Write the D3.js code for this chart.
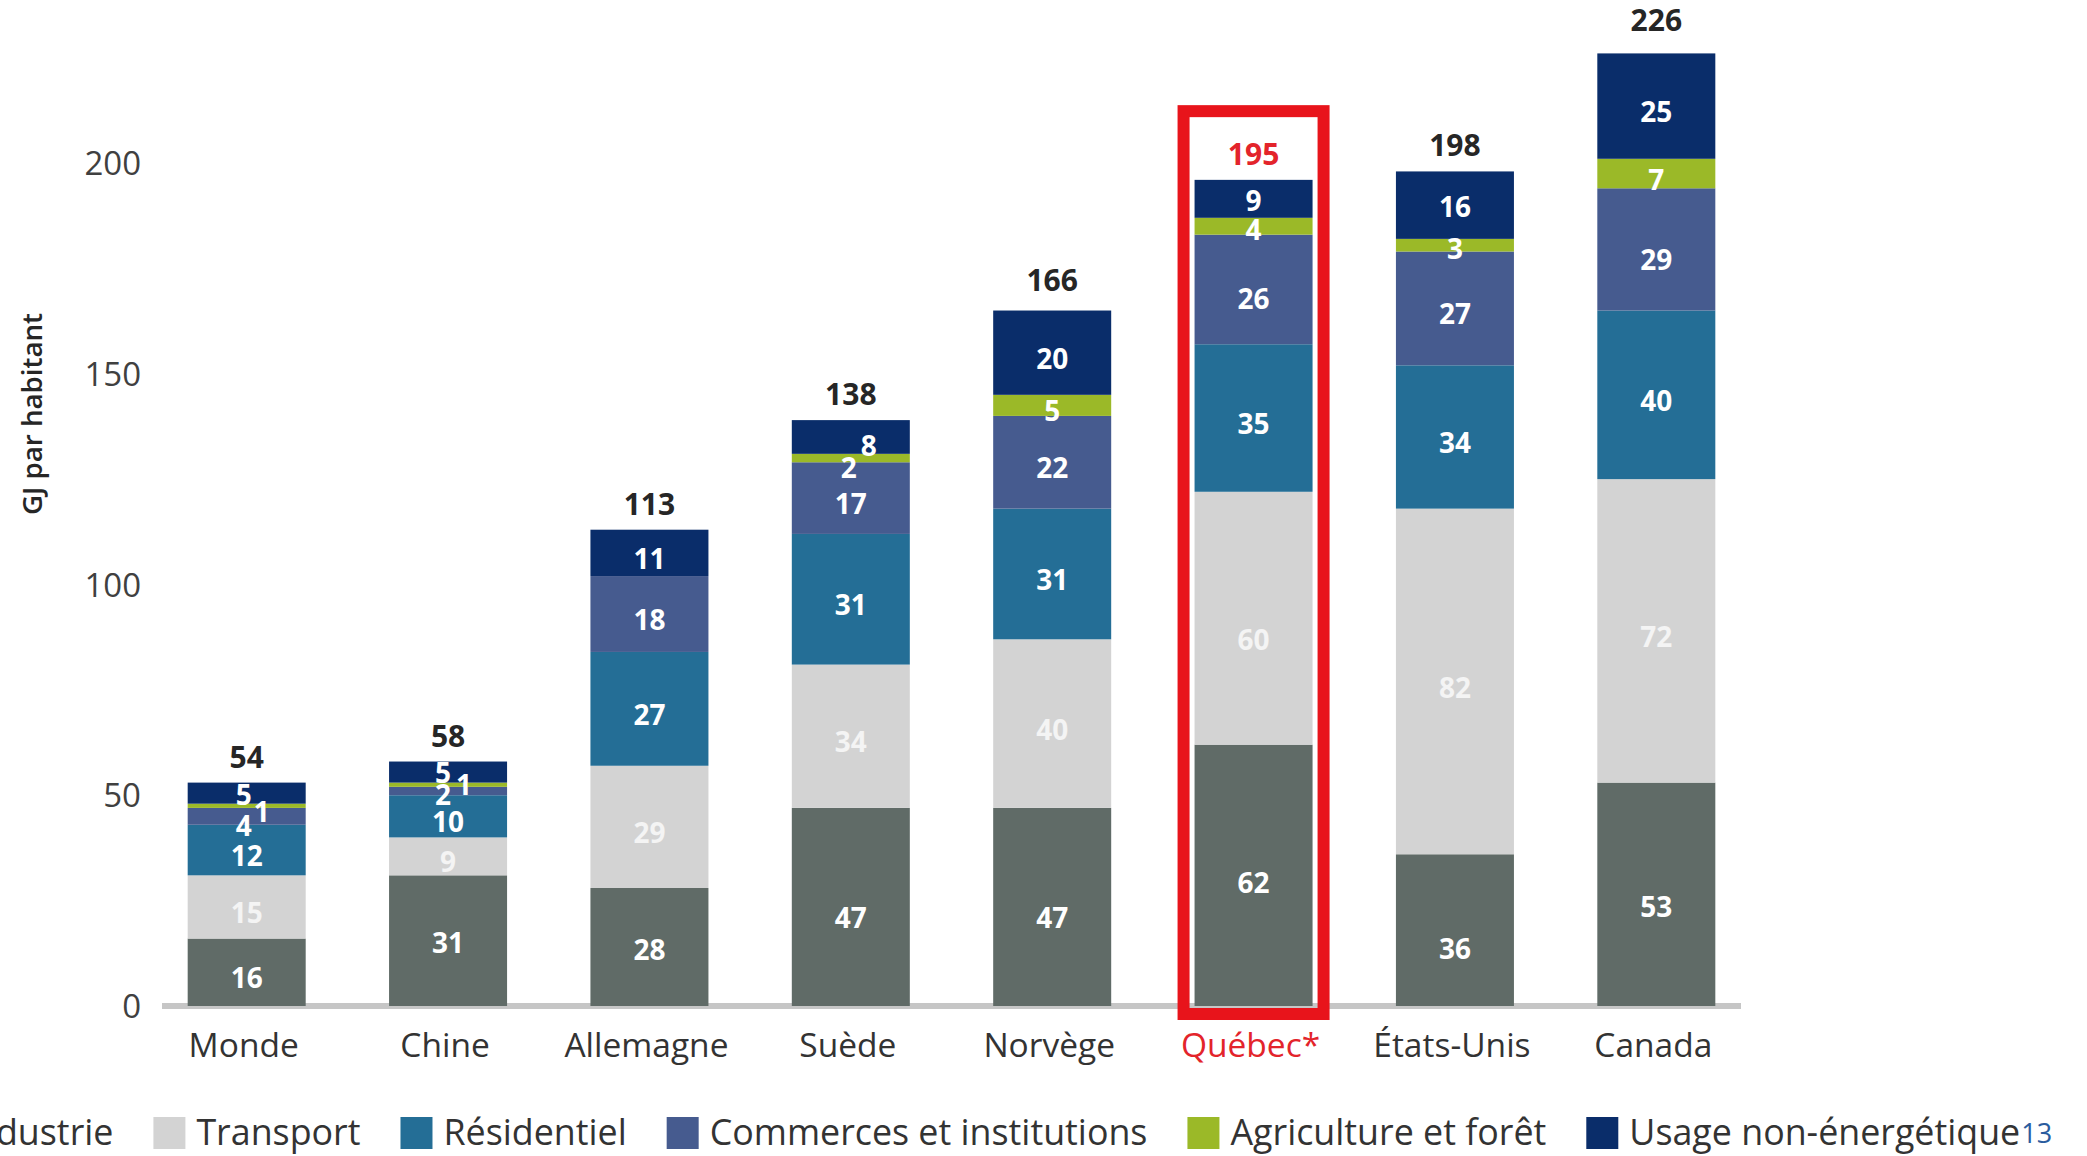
<!DOCTYPE html>
<html>
<head>
<meta charset="utf-8">
<script src="https://cdn.jsdelivr.net/npm/d3@7"></script>
<style>
  html, body { margin: 0; padding: 0; background: #ffffff; overflow: hidden; }
  svg { display: block; }
  text { font-family: "Open Sans", "Noto Sans", sans-serif; }
</style>
</head>
<body>
<script>
// ---------------- DATA ----------------
const categories = ["Monde", "Chine", "Allemagne", "Suède", "Norvège", "Québec*", "États-Unis", "Canada"];
const seriesNames = ["Industrie", "Transport", "Résidentiel", "Commerces et institutions", "Agriculture et forêt", "Usage non-énergétique"];
const industrie   = [16, 31, 28, 47, 47, 62, 36, 53];
const transport   = [15,  9, 29, 34, 40, 60, 82, 72];
const residentiel = [12, 10, 27, 31, 31, 35, 34, 40];
const commerces   = [ 4,  2, 18, 17, 22, 26, 27, 29];
const agriculture = [ 1,  1,  0,  2,  5,  4,  3,  7];
const usageNonEn  = [ 5,  5, 11,  8, 20,  9, 16, 25];
const totals      = [54, 58, 113, 138, 166, 195, 198, 226];
const yTicks      = [0, 50, 100, 150, 200];
const highlighted = "Québec*";
const pageNumber  = "13";

// ---------------- STYLE ----------------
const W = 2087, H = 1156;
const colors = ["#606b67", "#d3d3d3", "#246e96", "#465b8f", "#9bb928", "#0a2d6a"];
const labelNudge = {   // label offsets (px) as placed in the reference
  "Monde|Usage non-énergétique": [-3, -4],
  "Monde|Agriculture et forêt": [15, 0],
  "Monde|Commerces et institutions": [-3, 4],
  "Chine|Usage non-énergétique": [-5, -5],
  "Chine|Agriculture et forêt": [16, -6],
  "Chine|Commerces et institutions": [-5, -2],
  "Suède|Usage non-énergétique": [18, 3],
  "Suède|Agriculture et forêt": [-2, 4],
  "Québec*|Usage non-énergétique": [0, -4],
  "Québec*|Agriculture et forêt": [0, -2],
  "Québec*|Transport": [0, 16],
  "Québec*|Commerces et institutions": [0, 3],
  "États-Unis|Industrie": [0, 13],
  "États-Unis|Agriculture et forêt": [0, -2],
  "États-Unis|Usage non-énergétique": [0, -4],
  "Canada|Industrie": [0, 7],
  "Canada|Commerces et institutions": [0, 5],
  "Suède|Industrie": [0, 5],
  "Norvège|Industrie": [0, 5],
  "Allemagne|Industrie": [0, -3],
  "Chine|Industrie": [0, -4],
  "Québec*|Industrie": [0, 2]
};
const totalNudge = { "Canada": -7, "Norvège": -5 };

const seriesValues = [industrie, transport, residentiel, commerces, agriculture, usageNonEn];
const table = categories.map((c, i) => {
  const row = { cat: c };
  seriesNames.forEach((s, j) => row[s] = seriesValues[j][i]);
  return row;
});
const stacked = d3.stack().keys(seriesNames)(table);

const svg = d3.select("body").append("svg").attr("width", W).attr("height", H);

const x = d3.scaleBand().domain(categories).range([146, 1757]).paddingInner(0.414).paddingOuter(0.207);
const y = d3.scaleLinear().domain([0, 200]).range([1006, 163]);
const color = d3.scaleOrdinal().domain(seriesNames).range(colors);

// baseline
svg.append("line")
  .attr("x1", 162).attr("x2", 1741)
  .attr("y1", y(0)).attr("y2", y(0))
  .attr("stroke", "#c6c6c6").attr("stroke-width", 6);

// y axis (labels only)
const yAxis = d3.axisLeft(y).tickValues(yTicks).tickSize(0).tickPadding(0);
const gy = svg.append("g").attr("transform", "translate(141,0)").call(yAxis);
gy.select(".domain").remove();
gy.selectAll("text")
  .attr("font-size", 33).attr("fill", "#404040")
  .attr("font-family", "Open Sans").attr("dy", "0.35em");

// y axis title
svg.append("text")
  .attr("transform", "translate(42,414) rotate(-90)")
  .attr("text-anchor", "middle")
  .attr("font-size", 27).attr("font-weight", 600).attr("fill", "#262626")
  .attr("textLength", 202).attr("lengthAdjust", "spacingAndGlyphs")
  .text("GJ par habitant");

// bars
const layers = svg.append("g").selectAll("g").data(stacked).join("g")
  .attr("fill", d => color(d.key));
layers.selectAll("rect").data(d => d.map(v => Object.assign(v, { key: d.key }))).join("rect")
  .attr("x", d => x(d.data.cat))
  .attr("width", x.bandwidth())
  .attr("y", d => y(d[1]))
  .attr("height", d => y(d[0]) - y(d[1]));

// segment labels
const segLabels = svg.append("g");
stacked.forEach(layer => {
  layer.forEach(d => {
    const v = d[1] - d[0];
    if (v <= 0) return;
    const nud = labelNudge[d.data.cat + "|" + layer.key] || [0, 0];
    segLabels.append("text")
      .attr("x", x(d.data.cat) + x.bandwidth() / 2 + nud[0])
      .attr("y", (y(d[0]) + y(d[1])) / 2 + 6 + nud[1])
      .attr("dy", "0.36em")
      .attr("text-anchor", "middle")
      .attr("font-size", 28).attr("font-weight", 700)
      .attr("fill", layer.key === "Transport" ? "#f4f4f4" : "#ffffff")
      .text(v);
  });
});

// totals
svg.append("g").selectAll("text").data(categories).join("text")
  .attr("x", d => x(d) + x.bandwidth() / 2)
  .attr("y", (d, i) => y(d3.sum(seriesValues, s => s[i])) - 15 + (totalNudge[d] || 0))
  .attr("text-anchor", "middle")
  .attr("font-size", 30).attr("font-weight", 700)
  .attr("fill", d => d === highlighted ? "#e3242b" : "#262626")
  .text((d, i) => totals[i]);

// category labels
svg.append("g").selectAll("text").data(categories).join("text")
  .attr("x", d => x(d) + x.bandwidth() / 2 - 3)
  .attr("y", 1057)
  .attr("text-anchor", "middle")
  .attr("font-size", 33.5)
  .attr("fill", d => d === highlighted ? "#e3242b" : "#333333")
  .text(d => d);

// highlight box
svg.append("rect")
  .attr("x", x(highlighted) - 11)
  .attr("width", x.bandwidth() + 22)
  .attr("y", y(212.3))
  .attr("height", y(0) + 8 - y(212.3))
  .attr("fill", "none")
  .attr("stroke", "#e8141b").attr("stroke-width", 12);

// legend
const lg = svg.append("g");
let lx = -79, lastEnd = 0;
seriesNames.forEach((s, i) => {
  lg.append("rect").attr("x", lx).attr("y", 1117).attr("width", 32).attr("height", 32).attr("fill", colors[i]);
  const t = lg.append("text").attr("x", lx + 43).attr("y", 1145)
    .attr("font-size", 35.8).attr("fill", "#333333").text(s);
  lastEnd = lx + 43 + t.node().getComputedTextLength();
  lx = lastEnd + 40;
});
svg.append("text").attr("x", lastEnd + 1).attr("y", 1143)
  .attr("font-size", 27).attr("fill", "#2a5c9e").text(pageNumber);
</script>
</body>
</html>
